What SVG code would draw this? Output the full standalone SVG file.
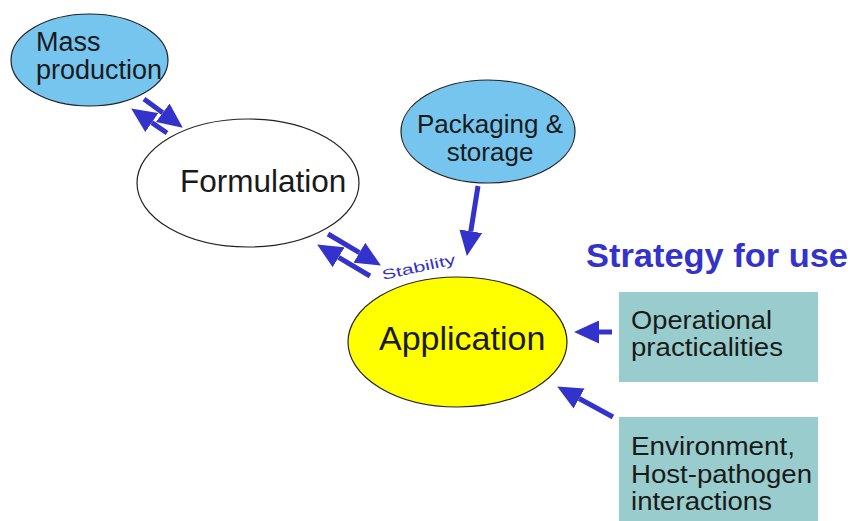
<svg xmlns="http://www.w3.org/2000/svg" width="853" height="521" viewBox="0 0 853 521">
<style>
.lbl{font-family:"Liberation Sans",Arial,sans-serif;fill:#1a1a1a}
.ell{stroke:#222;stroke-width:1.2}
.blue{fill:#75c5ef}
.box{fill:#99cccc}
.arr{stroke:#3333cc;stroke-width:5;fill:none;marker-end:url(#head)}
</style>
<defs>
<marker id="head" markerUnits="userSpaceOnUse" markerWidth="25" markerHeight="23" refX="0" refY="11.5" orient="auto" viewBox="0 0 25 23">
<path d="M0,0 L25,11.5 L0,23 z" fill="#3333cc"/>
</marker>
</defs>
<rect width="853" height="521" fill="#fff"/>
<g id="mass">
<ellipse class="ell blue" cx="89.5" cy="60" rx="78.5" ry="46"/>
<text class="lbl" font-size="27" x="36" y="51">Mass</text>
<text class="lbl" font-size="27" x="36" y="79">production</text>
</g>
<g id="formulation">
<ellipse class="ell" fill="#fff" cx="248" cy="183" rx="111" ry="64"/>
<text class="lbl" font-size="31.5" x="180" y="192">Formulation</text>
</g>
<g id="packaging">
<ellipse class="ell blue" cx="488" cy="131.5" rx="87" ry="51.5"/>
<text class="lbl" font-size="26" x="490" y="133" text-anchor="middle">Packaging &amp;</text>
<text class="lbl" font-size="26" x="490" y="161" text-anchor="middle">storage</text>
</g>
<g id="application">
<ellipse class="ell" fill="#ffff00" cx="457.5" cy="342" rx="109.5" ry="65"/>
<text class="lbl" font-size="34" x="379" y="350">Application</text>
</g>
<g id="strategy">
<text font-family="Liberation Sans,Arial,sans-serif" font-weight="bold" font-size="33" fill="#3333cc" x="586" y="267" textLength="262" lengthAdjust="spacingAndGlyphs">Strategy for use</text>
</g>
<g id="operational">
<rect class="box" x="619" y="292" width="199" height="90"/>
<text class="lbl" font-size="25" x="631" y="329" textLength="141" lengthAdjust="spacingAndGlyphs">Operational</text>
<text class="lbl" font-size="25" x="631" y="356" textLength="152" lengthAdjust="spacingAndGlyphs">practicalities</text>
</g>
<g id="environment">
<rect class="box" x="619" y="417" width="199" height="104"/>
<text class="lbl" font-size="25" x="631" y="455" textLength="164" lengthAdjust="spacingAndGlyphs">Environment,</text>
<text class="lbl" font-size="25" x="631" y="483" textLength="181" lengthAdjust="spacingAndGlyphs">Host-pathogen</text>
<text class="lbl" font-size="25" x="631" y="510" textLength="141" lengthAdjust="spacingAndGlyphs">interactions</text>
</g>
<g id="connectors">
<line class="arr" x1="144" y1="99" x2="162.7" y2="112.8"/>
<line class="arr" x1="167" y1="133" x2="151.8" y2="122.6"/>
<line class="arr" x1="328" y1="234" x2="359.4" y2="252.7"/>
<line class="arr" x1="370" y1="276" x2="338.6" y2="257.3"/>
<line class="arr" x1="478" y1="186" x2="470.8" y2="231.3"/>
<line class="arr" x1="612" y1="332" x2="599" y2="332"/>
<line class="arr" x1="613" y1="417" x2="579.1" y2="398.5"/>
<text font-family="Liberation Sans,Arial,sans-serif" font-size="14" fill="#3333cc" transform="translate(383 280) rotate(-12.5)" textLength="75" lengthAdjust="spacingAndGlyphs">Stability</text>
</g>
</svg>
